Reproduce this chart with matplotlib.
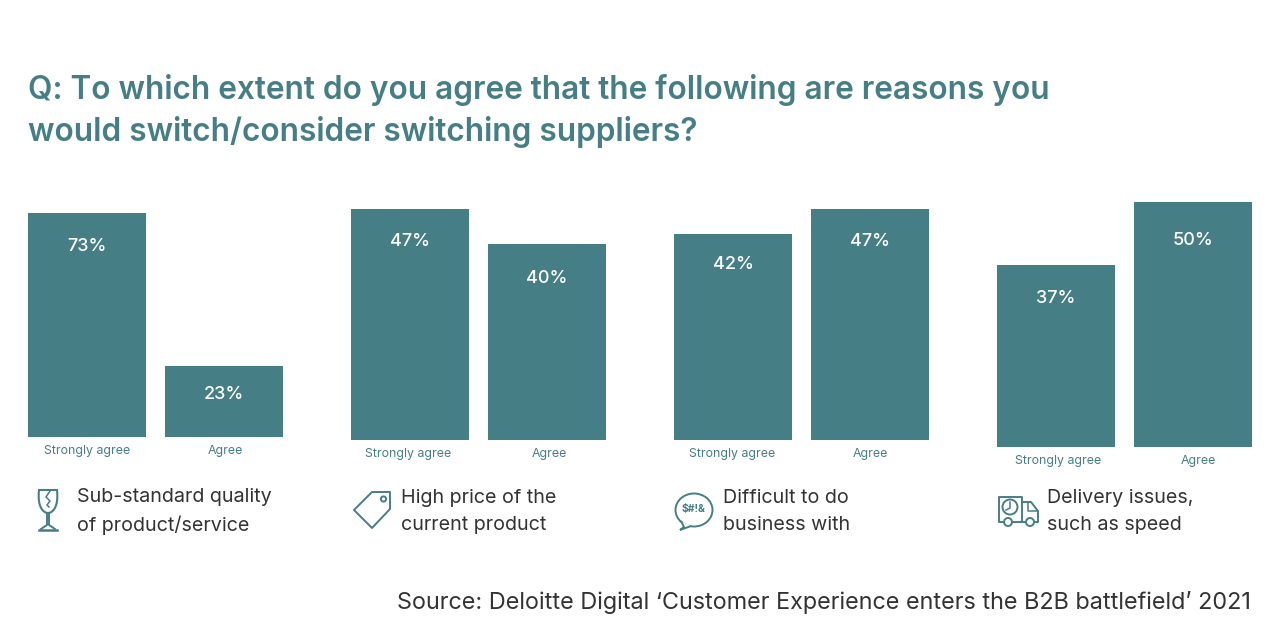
from matplotlib import pyplot as plt
from matplotlib.patches import Circle, Polygon, Ellipse, PathPatch
from matplotlib.path import Path
from matplotlib.transforms import ScaledTranslation

plt.rcParams['font.family'] = ['Inter', 'DejaVu Sans']

TEAL = '#467e85'
DARK = '#333333'

title = 'Q: To which extent do you agree that the following are reasons you\nwould switch/consider switching suppliers?'
source = 'Source: Deloitte Digital ‘Customer Experience enters the B2B battlefield’ 2021'

bar_names = ['Strongly agree', 'Agree']
quality = [73, 23]
price = [47, 40]
difficult = [42, 47]
delivery = [37, 50]
captions = ['Sub-standard quality\nof product/service', 'High price of the\ncurrent product',
            'Difficult to do\nbusiness with', 'Delivery issues,\nsuch as speed']


def panel(fig, values, left, base, px_per_pct, label_drop, tick_shift):
    # axes in pixels, so each panel can keep its own baseline and scale
    top = 190
    ax = fig.add_axes([left / 1280, 1 - base / 640, 255 / 1280, (base - top) / 640])
    ax.bar([0, 1], values, width=0.86, color=TEAL)
    ax.set_xlim(-0.43, 1.43)
    ax.set_ylim(0, (base - top) / px_per_pct)
    ax.set_xticks([0, 1])
    ax.set_xticklabels(bar_names, fontsize=8.9, color=TEAL)
    ax.tick_params(axis='x', length=0, pad=6)
    for lab, dx in zip(ax.get_xticklabels(), tick_shift):
        lab.set_transform(lab.get_transform() + ScaledTranslation(dx / 100, 0, fig.dpi_scale_trans))
    ax.set_yticks([])
    for s in ax.spines.values():
        s.set_visible(False)
    ax.patch.set_alpha(0)
    for i, v in enumerate(values):
        ax.annotate('%d%%' % v, (i, v), xytext=(0, -label_drop[i] * 0.72), textcoords='offset points',
                    ha='center', va='center', color='white', fontsize=13, fontweight='medium')
    return ax


def glass(ax):
    verts = [(39, 490), (37, 508), (44, 513), (48, 513), (52, 513), (59, 508), (57, 490), (39, 490)]
    codes = [Path.MOVETO, Path.CURVE4, Path.CURVE4, Path.CURVE4, Path.CURVE4, Path.CURVE4, Path.CURVE4,
             Path.CLOSEPOLY]
    ax.add_patch(PathPatch(Path(verts, codes), fill=False, ec=TEAL, lw=1.5))
    ax.plot([47, 47, 41], [513, 525, 529], color=TEAL, lw=1.4)
    ax.plot([49, 49, 55], [513, 525, 529], color=TEAL, lw=1.4)
    ax.plot([39, 57], [529.5, 529.5], color=TEAL, lw=1.8)
    ax.plot([50, 46, 50, 47, 49], [491, 497, 501, 505, 507], color=TEAL, lw=1.1)


def tag(ax):
    ax.add_patch(Polygon([(372, 492), (390, 492), (390, 509), (372, 528), (354, 510)],
                         closed=True, fill=False, ec=TEAL, lw=1.4, joinstyle='round'))
    ax.add_patch(Circle((383.5, 499), 2.6, fill=False, ec=TEAL, lw=1.4))


def bubble(ax):
    ax.add_patch(Ellipse((694, 510), 37, 33, fill=False, ec=TEAL, lw=1.4))
    ax.add_patch(Polygon([(681, 521), (684, 527), (680, 530), (691, 526)], closed=False,
                         fc='white', ec=TEAL, lw=1.4, zorder=3))
    ax.text(694, 509, '$#!&', ha='center', va='center', fontsize=7.5, color=TEAL,
            fontweight='bold', parse_math=False)


def truck(ax):
    ax.plot([1004, 999, 999, 1022, 1022], [522, 522, 497, 497, 522], color=TEAL, lw=1.4)
    ax.plot([1012, 1026], [522, 522], color=TEAL, lw=1.4)
    ax.plot([1022, 1031, 1038, 1038, 1035], [502, 502, 511, 522, 522], color=TEAL, lw=1.4)
    ax.plot([1028, 1028, 1037], [503, 511, 511], color=TEAL, lw=1.1)
    ax.add_patch(Circle((1010, 507), 7.5, fill=False, ec=TEAL, lw=1.4))
    ax.plot([1010, 1010, 1006], [502, 508, 510], color=TEAL, lw=1.1)
    ax.add_patch(Circle((1008, 522), 4, fc='white', ec=TEAL, lw=1.4, zorder=3))
    ax.add_patch(Circle((1030, 522), 4, fc='white', ec=TEAL, lw=1.4, zorder=3))


def main():
    fig = plt.figure(figsize=(12.8, 6.4), dpi=100)

    panel(fig, quality, 28, 436.5, 3.06, [33, 28], [0, 1])
    panel(fig, price, 351, 440, 4.91, [32, 35], [-2, 2])
    panel(fig, difficult, 674, 440, 4.91, [31, 32], [-1, 0])
    panel(fig, delivery, 997, 447, 4.91, [33, 39], [2, 5])

    # pixel overlay for the texts and the little icons
    over = fig.add_axes([0, 0, 1, 1])
    over.set_xlim(0, 1280)
    over.set_ylim(640, 0)
    over.axis('off')
    over.patch.set_alpha(0)

    over.text(28, 111, title, fontsize=22.75, fontweight='semibold', color=TEAL,
              va='center', ha='left', linespacing=1.39)
    for x, text in zip([77, 401, 723, 1047], captions):
        over.text(x, 511.5, text, fontsize=14.2, color=DARK, va='center', ha='left', linespacing=1.63)
    over.text(1251, 602, source, fontsize=16.85, color=DARK, va='center', ha='right')

    glass(over)
    tag(over)
    bubble(over)
    truck(over)

    fig.savefig('out.png', dpi=100)


if __name__ == '__main__':
    main()
